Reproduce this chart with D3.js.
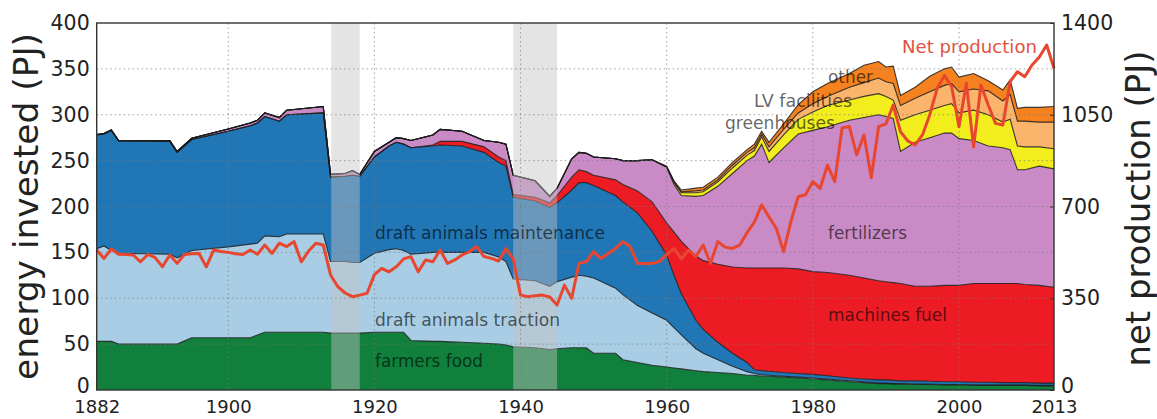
<!DOCTYPE html>
<html><head><meta charset="utf-8">
<script src="https://cdn.jsdelivr.net/npm/d3@7"></script>
<style>
html,body{margin:0;padding:0;background:#fff;}
svg{display:block;font-family:"DejaVu Sans",sans-serif;}
</style></head>
<body><svg id="chart" width="1157" height="419"></svg>
<script>
// ---------------- DATA ----------------
const years = [1882,1883,1884,1885,1892, 1893,1895,1900,1903,1904, 1905,1907,1908,1913,1914,
  1916,1917,1918,1920,1922, 1923,1924,1925,1928,1929, 1932,1935,1937,1938,1939,
  1942,1944,1945,1947,1948, 1949,1950,1953,1954,1956, 1958,1960,1961,1962,1964,
  1965,1967,1969,1971,1972, 1973,1974,1976,1978,1980, 1982,1985,1987,1989,1990,
  1991,1992,1994,1996,1998, 1999,2000,2002,2004,2006, 2007,2008,2009,2011,2013];

const farmersFood = [53,53,53,50,50, 50,57,57,57,60, 63,63,63,63,62,
  62,62,62,63,63, 63,63,54,53,53, 52,51,50,49,47,
  46,44,45,46,46, 46,40,40,33,30, 27,25,24,23,21,
  20,19,18,16,16, 15,15,14,13,12, 11,9,8,7,7,
  6.5,6.5,6,6,5.5, 5.5,5.5,5,5,5, 5,5,5,4.5,4.5];

const draftTraction = [101,104,99,99,98, 94,95,99,102,100, 105,104,107,107,78,
  78,77,77,86,90, 91,89,94,97,97, 98,99,95,91,74,
  73,69,73,77,79, 78,82,71,71,62, 57,51,44,37,24,
  20,14,8,4,2, 1.5,1,1,1,1, 1,1,1,0.5,0.5,
  0.5,0.5,0.5,0.5,0.5, 0.5,0.5,0.5,0.5,0.5, 0.5,0.5,0.5,0.5,0.5];

const draftMaintenance = [124,122,131,122.5,123, 115,121,126,129,131, 130,126,130,132,92,
  93,95,94,105,113, 116,116,116,116,117, 116,109,103,104,89,
  87,86,86,95,101, 102,101,101,101,101, 89,71,57,45,31,
  26,19,14,10,4, 4.5,4.5,4,4,4, 3.5,3,3,3.5,3.5,
  3.5,3,3.5,3,3, 3,3,3,3,2.5, 2.5,2.5,2.5,2.5,2.5];

const machinesFuel = [0,0,0,0,0, 0,0,0,0,0, 0,0,0,0,0,
  0,0,0,0,0, 0,0,0,1,4, 5,6,6,6,3,
  4,5,8,14,14, 12,11,17,19,24, 32,35,47,57,70,
  75,85,94,103,111, 112,112.5,114,114,112, 112.5,112,110,108,107,
  106.5,106,103,103.5,105, 105,105,107.5,107.5,108, 108,108,107,106.5,104.5];

const fertilizers = [0.5,0.5,0.5,0.5,1, 1,1.5,2.5,3,3, 4,4,5,7,3,
  3,5,2,6,4, 5,6,8,11,13, 11,7,16,18,21,
  18,7,8,20,19, 20,20,23,26,33, 46,61,52,50,65,
  71,85,102,117,122, 135,115,131,147,154, 159,169,175,181,180,
  179,144,157,162,166, 166,160,156,150,148, 146,124,125,130,129];

const greenhouses = [0,0,0,0,0, 0,0,0,0,0, 0,0,0,0,0,
  0,0,0,0,0, 0,0,0,0,0, 0,0,0,0,0,
  0,0,0,0,0, 0,0,0,0,0, 0,0,2,3,4,
  4,5,6,6,6, 8,12,14,16,20, 23,22,23,23,22,
  20,34,30,30,30, 32,28,33,34,28, 33,26,25,21,22];

const lvFacilities = [0,0,0,0,0, 0,0,0,0,0, 0,0,0,0,0,
  0,0,0,0,0, 0,0,0,0,0, 0,0,0,0,0,
  0,0,0,0,0, 0,0,0,0,0, 0,0,1,1,2,
  2,2,3,3,3, 3,5,6,7,9, 10,14,15,17,16,
  18,16,18,20,22, 22,23,23,26,23, 27,27,28,27,29];

const other = [0,0,0,0,0, 0,0,0,0,0, 0,0,0,0,0,
  0,0,0,0,0, 0,0,0,0,0, 0,0,0,0,0,
  0,0,0,0,0, 0,0,0,0,0, 0,1,1,2,3,
  3,3,3,3,4, 3,5,6,9,13, 14,15,19,18,16,
  19,11,12,17,18, 18,16,17,11,12, 16,14,15,16,17];

const netProdYears = d3.range(1882, 2014);
const netProduction = [534,502,538,518,517,515,489,517,505,470,
  515,483,517,520,521,470,534,528,525,520,
  517,534,518,553,521,560,547,566,489,530,
  560,553,439,394,370,356,362,369,440,464,
  451,470,500,509,451,496,489,534,483,496,
  515,528,547,509,502,492,540,500,362,356,
  360,362,355,324,400,350,483,489,528,502,
  521,540,566,547,483,483,483,490,517,540,
  500,534,509,553,483,566,545,540,553,600,
  640,706,660,617,528,643,737,745,795,769,
  858,795,1000,1005,897,973,810,1005,1015,1087,
  985,950,935,973,1050,1150,1200,1157,1004,1170,
  928,1163,1087,1017,1011,1176,1214,1195,1240,1270,
  1316,1227];

const leftTicks = [0,50,100,150,200,250,300,350,400];
const rightTicks = [0,350,700,1050,1400];
const xTicks = [1882,1900,1920,1940,1960,1980,2000,2013];
const warBands = [[1914.1,1918],[1939,1945]];

const layerNames = ["farmers food","draft animals traction","draft animals maintenance","machines fuel",
  "fertilizers","greenhouses","LV facilities","other"];
const layerColors = ["#10803c","#a8cde4","#2176b6","#ed1c24","#c98ac6","#f2ee1e","#fbb46c","#f5821f"];

// ---------------- CHART ----------------
const svg = d3.select("#chart");
const L = 96.7, R = 1054, T = 23, B = 390;
const x = d3.scaleLinear().domain([1882, 2013]).range([L, R]);
const yL = d3.scaleLinear().domain([0, 400]).range([B, T]);
const yR = d3.scaleLinear().domain([0, 1400]).range([B, T]);

const series = [farmersFood, draftTraction, draftMaintenance, machinesFuel, fertilizers, greenhouses, lvFacilities, other];
const rows = years.map((yr, i) => {
  const r = {year: yr};
  layerNames.forEach((k, j) => r[k] = series[j][i]);
  return r;
});
const stacked = d3.stack().keys(layerNames)(rows);

const area = d3.area().x(d => x(d.data.year)).y0(d => yL(d[0])).y1(d => yL(d[1]));
const topLine = d3.line().x(d => x(d.data.year)).y(d => yL(d[1]));

const plot = svg.append("g");
plot.selectAll("path.layer").data(stacked).join("path")
  .attr("class", "layer").attr("d", area)
  .attr("fill", (d, i) => layerColors[i]).attr("stroke", "none");
plot.selectAll("path.edge").data(stacked).join("path")
  .attr("class", "edge").attr("d", topLine)
  .attr("fill", "none").attr("stroke", "#1b1b1b").attr("stroke-width", 1.1).attr("stroke-opacity", 0.85);

// war bands
plot.selectAll("rect.band").data(warBands).join("rect")
  .attr("x", d => x(d[0])).attr("width", d => x(d[1]) - x(d[0]))
  .attr("y", T).attr("height", B - T)
  .attr("fill", "#c4c4c4").attr("fill-opacity", 0.45);

// grid
const grid = svg.append("g").attr("stroke", "#7a7a7a").attr("stroke-opacity", 0.7)
  .attr("stroke-width", 1).attr("stroke-dasharray", "1.5,3");
grid.selectAll("line.h").data(leftTicks.filter(v => v > 0 && v < 400)).join("line")
  .attr("x1", L).attr("x2", R).attr("y1", d => yL(d)).attr("y2", d => yL(d));
grid.selectAll("line.v").data(xTicks.filter(v => v > 1882 && v < 2013)).join("line")
  .attr("y1", T).attr("y2", B).attr("x1", d => x(d)).attr("x2", d => x(d));

// net production line
svg.append("path").datum(netProduction.map((v, i) => [netProdYears[i], v]))
  .attr("d", d3.line().x(d => x(d[0])).y(d => yR(d[1])))
  .attr("fill", "none").attr("stroke", "#e8462e").attr("stroke-width", 3)
  .attr("stroke-linejoin", "round");

// area labels
const labels = [
  {t: "draft animals maintenance", x: 375, y: 239, w: 230},
  {t: "draft animals traction", x: 375, y: 326, w: 185},
  {t: "farmers food", x: 375, y: 367, w: 108},
  {t: "fertilizers", x: 828, y: 239, w: 79},
  {t: "machines fuel", x: 828, y: 321, w: 119},
  {t: "greenhouses", x: 725, y: 129, w: 110},
  {t: "LV facilities", x: 754, y: 107, w: 98},
  {t: "other", x: 828, y: 83, w: 45}
];
svg.append("g").selectAll("text").data(labels).join("text")
  .attr("x", d => d.x).attr("y", d => d.y).text(d => d.t)
  .attr("font-size", 17.5).attr("fill", "#000").attr("fill-opacity", 0.62)
  .attr("textLength", d => d.w).attr("lengthAdjust", "spacingAndGlyphs");
svg.append("text").attr("x", 902).attr("y", 53).text("Net production")
  .attr("font-size", 17.5).attr("fill", "#e0533f")
  .attr("textLength", 135).attr("lengthAdjust", "spacingAndGlyphs");

// axes
const axL = svg.append("g").attr("transform", `translate(${L},0)`)
  .call(d3.axisLeft(yL).tickValues(leftTicks).tickSize(0).tickPadding(7));
axL.selectAll("text").attr("font-size", 20.5).attr("fill", "#222").attr("font-family", "DejaVu Sans")
  .filter(d => d === 0).attr("dy", "0.12em");
const axR = svg.append("g").attr("transform", `translate(${R},0)`)
  .call(d3.axisRight(yR).tickValues(rightTicks).tickFormat(d3.format("d")).tickSize(-4).tickPadding(7));
axR.selectAll("text").attr("font-size", 20.5).attr("fill", "#222").attr("font-family", "DejaVu Sans")
  .filter(d => d === 0).attr("dy", "0.12em");
const axB = svg.append("g").attr("transform", `translate(0,${B})`)
  .call(d3.axisBottom(x).tickValues(xTicks).tickFormat(d3.format("d")).tickSize(0).tickPadding(10));
axB.selectAll("text").attr("font-size", 18).attr("fill", "#222").attr("font-family", "DejaVu Sans");
[axL, axR, axB].forEach(a => { a.select(".domain").remove(); a.selectAll("line").attr("stroke", "#333"); });

// frame
svg.append("rect").attr("x", L).attr("y", T).attr("width", R - L).attr("height", B - T)
  .attr("fill", "none").attr("stroke", "#333").attr("stroke-width", 1.4);

// axis titles
svg.append("text").attr("transform", `translate(38,${(T + B) / 2}) rotate(-90)`)
  .attr("text-anchor", "middle").attr("font-size", 34).attr("fill", "#222")
  .attr("textLength", 347).attr("lengthAdjust", "spacingAndGlyphs")
  .text("energy invested (PJ)");
svg.append("text").attr("transform", `translate(1150,${(T + B) / 2 + 2}) rotate(-90)`)
  .attr("text-anchor", "middle").attr("font-size", 34).attr("fill", "#222")
  .attr("textLength", 316).attr("lengthAdjust", "spacingAndGlyphs")
  .text("net production (PJ)");
</script></body></html>
